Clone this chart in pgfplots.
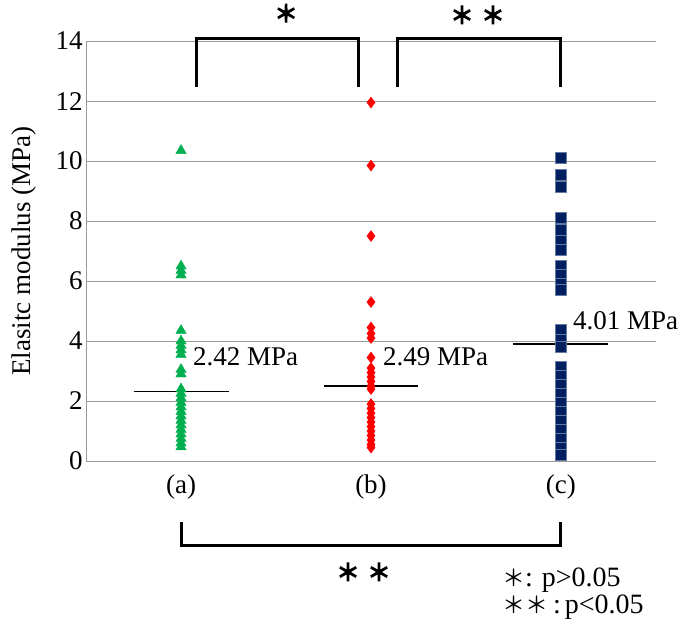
\documentclass[border=0pt]{standalone}
\usepackage{pgfplots}
\pgfplotsset{compat=1.18}
\usepackage{fontspec}
\setmainfont{Liberation Serif}
\newfontfamily\cjk{Noto Sans CJK JP}
\newfontfamily\cjkb{Noto Sans CJK JP}[FakeBold=6]
\definecolor{exgreen}{RGB}{0,176,80}
\definecolor{exred}{RGB}{255,0,0}
\definecolor{exnavy}{RGB}{0,32,96}
\begin{document}
\begin{tikzpicture}[font=\fontsize{27}{32}\selectfont]
\begin{axis}[
  scale only axis,
  width=570pt, height=420pt,
  xmin=-0.5, xmax=2.5,
  ymin=0, ymax=14,
  xtick={0,1,2},
  xticklabels={(a),(b),(c)},
  ytick={0,2,4,6,8,10,12,14},
  axis x line=bottom,
  axis y line=left,
  axis line style={-, gray!80, line width=1pt},
  ymajorgrids=true,
  grid style={gray!80, line width=1pt},
  major tick length=0pt,
  clip=false,
  ylabel={Elasitc modulus (MPa)},
  ylabel style={yshift=12pt},
  /pgf/number format/assume math mode=true,
  tick label style={font=\fontsize{27}{32}\selectfont},
  label style={font=\fontsize{27}{32}\selectfont},
  xticklabel style={yshift=-10pt},
  ]
  % (a)
  \addplot[only marks, mark=triangle*, color=exgreen, mark size=6pt]
  coordinates {
    (0,10.35) (0,6.5) (0,6.35) (0,6.2)
    (0,4.35) (0,4.0) (0,3.85) (0,3.7) (0,3.55)
    (0,3.05) (0,2.9)
    (0,2.4) (0,2.25) (0,2.1) (0,1.95) (0,1.8) (0,1.65) (0,1.5)
    (0,1.35) (0,1.2) (0,1.05) (0,0.9) (0,0.75) (0,0.6) (0,0.47)
  };
  % (b)
  \addplot[only marks, mark=diamond*, color=exred, mark size=5.5pt]
  coordinates {
    (1,11.95) (1,9.85) (1,7.5) (1,5.3)
    (1,4.45) (1,4.25) (1,4.1) (1,3.45)
    (1,3.1) (1,2.95) (1,2.8) (1,2.65) (1,2.5) (1,2.4)
    (1,1.9) (1,1.75) (1,1.6) (1,1.45) (1,1.3) (1,1.15) (1,1.0)
    (1,0.85) (1,0.7) (1,0.55) (1,0.45)
  };
  % (c)
  \addplot[only marks, mark=square*, color=exnavy, mark size=5.5pt,
    mark options={draw=exnavy!60, line width=0.3pt}]
  coordinates {
    (2,10.13) (2,9.55) (2,9.15) (2,8.1) (2,7.72) (2,7.35) (2,7.05)
    (2,6.5) (2,6.2) (2,5.9) (2,5.7)
    (2,4.37) (2,4.05) (2,3.8)
    (2,3.15) (2,2.85) (2,2.55) (2,2.25) (2,1.95) (2,1.65) (2,1.35)
    (2,1.05) (2,0.75) (2,0.45) (2,0.2)
  };
  % median lines
  \addplot[black, line width=1.2pt] coordinates {(-0.25,2.33) (0.25,2.33)};
  \addplot[black, line width=1.2pt] coordinates {(0.75,2.5) (1.25,2.5)};
  \addplot[black, line width=1.2pt] coordinates {(1.75,3.9) (2.25,3.9)};
  \node[anchor=west, inner sep=0pt] at (axis cs:0.063,3.47) {2.42 MPa};
  \node[anchor=west, inner sep=0pt] at (axis cs:1.063,3.47) {2.49 MPa};
  \node[anchor=west, inner sep=0pt] at (axis cs:2.063,4.67) {4.01 MPa};
  % brackets
  \draw[line width=3pt] (axis cs:0.079,12.47) -- (axis cs:0.079,14.07)
    -- (axis cs:0.932,14.07) -- (axis cs:0.932,12.47);
  \draw[line width=3pt] (axis cs:1.142,12.47) -- (axis cs:1.142,14.07)
    -- (axis cs:1.995,14.07) -- (axis cs:1.995,12.47);
  \draw[line width=3pt] (axis cs:0,-2.03) -- (axis cs:0,-2.83)
    -- (axis cs:2,-2.83) -- (axis cs:2,-2.03);
  \node[font=\cjkb\fontsize{23}{26}\selectfont] at (axis cs:0.553,14.93) {＊};
  \node[font=\cjkb\fontsize{23}{26}\selectfont] at (axis cs:1.479,14.87) {＊};
  \node[font=\cjkb\fontsize{23}{26}\selectfont] at (axis cs:1.642,14.87) {＊};
  \node[font=\cjkb\fontsize{23}{26}\selectfont] at (axis cs:0.879,-3.7) {＊};
  \node[font=\cjkb\fontsize{23}{26}\selectfont] at (axis cs:1.042,-3.7) {＊};
  % note
  \node[anchor=west, inner sep=0pt, font=\fontsize{28}{32}\selectfont]
    at (axis cs:1.689,-3.97)
    {{\cjk\fontsize{23}{26}\selectfont ＊}:\hspace{9pt}p>0.05};
  \node[anchor=west, inner sep=0pt, font=\fontsize{28}{32}\selectfont]
    at (axis cs:1.689,-4.87)
    {{\cjk\fontsize{23}{26}\selectfont ＊＊}\hspace{5pt}:\hspace{4pt}p<0.05};
  \path (axis cs:-0.953,15.37) rectangle (axis cs:2.653,-5.6);
\end{axis}
\end{tikzpicture}
\end{document}
